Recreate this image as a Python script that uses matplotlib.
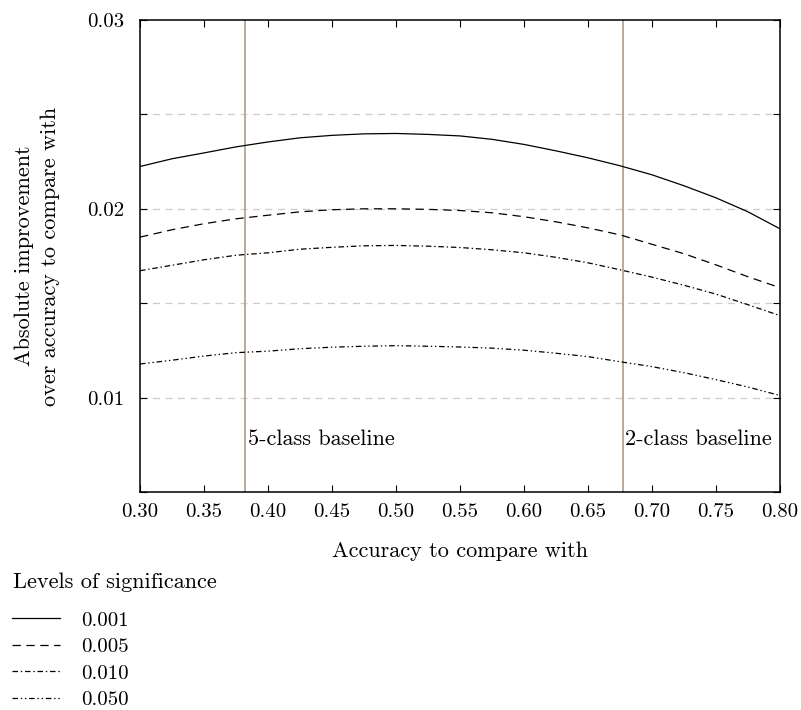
import matplotlib
matplotlib.use("Agg")
import matplotlib.pyplot as plt
from matplotlib.lines import Line2D

plt.rcParams.update({
    'font.family': 'cmr10',
    'font.size': 16,
    'axes.formatter.use_mathtext': True,
    'lines.scale_dashes': False,
})

# accuracy to compare with
acc = [0.300, 0.325, 0.350, 0.375, 0.400, 0.425, 0.450, 0.475, 0.500, 0.525, 0.550,
       0.575, 0.600, 0.625, 0.650, 0.675, 0.700, 0.725, 0.750, 0.775, 0.800]

# absolute improvement needed, one series per level of significance
imp_001 = [0.02224, 0.02265, 0.02296, 0.02328, 0.02354, 0.02376, 0.02389, 0.02397, 0.02399, 0.02394, 0.02386,
           0.02368, 0.02341, 0.02307, 0.02270, 0.02228, 0.02180, 0.02122, 0.02058, 0.01984, 0.01894]
imp_005 = [0.01850, 0.01889, 0.01921, 0.01947, 0.01966, 0.01984, 0.01995, 0.02000, 0.02000, 0.01997, 0.01991,
           0.01979, 0.01958, 0.01931, 0.01899, 0.01862, 0.01812, 0.01762, 0.01703, 0.01640, 0.01582]
imp_010 = [0.01672, 0.01701, 0.01730, 0.01754, 0.01767, 0.01786, 0.01796, 0.01804, 0.01806, 0.01802, 0.01795,
           0.01783, 0.01767, 0.01743, 0.01714, 0.01677, 0.01638, 0.01595, 0.01548, 0.01492, 0.01434]
imp_050 = [0.01178, 0.01198, 0.01220, 0.01238, 0.01246, 0.01259, 0.01267, 0.01272, 0.01275, 0.01272, 0.01268,
           0.01262, 0.01251, 0.01235, 0.01217, 0.01190, 0.01164, 0.01132, 0.01095, 0.01056, 0.01011]

levels = ['0.001', '0.005', '0.010', '0.050']
baselines = [0.382, 0.677]
baseline_names = ['5-class baseline', '2-class baseline']

styles = ['-', (0, (6, 4)), (0, (4, 2, 1, 2)), (0, (4, 2, 1, 2, 1, 2))]

fig = plt.figure(figsize=(8.01, 7.10), dpi=100)
ax = fig.add_axes([140 / 801, 1 - 492 / 710, 640 / 801, 472 / 710])

# grid
for g in [0.010, 0.015, 0.020, 0.025]:
    ax.axhline(g, color='#cccccc', lw=0.9, ls=(0, (5, 4)), zorder=1)

for b, name in zip(baselines, baseline_names):
    ax.axvline(b, color='#b8aa9a', lw=1.4, zorder=2)
    ax.text(b + 0.002, 0.0078, name, ha='left', va='center', fontsize=16)

series = [imp_001, imp_005, imp_010, imp_050]
for s, ls in zip(series, styles):
    ax.plot(acc, s, color='black', lw=0.9, ls=ls, zorder=3)

ax.set_xlim(0.30, 0.80)
ax.set_ylim(0.005, 0.03)
xt = [0.30, 0.35, 0.40, 0.45, 0.50, 0.55, 0.60, 0.65, 0.70, 0.75, 0.80]
ax.set_xticks(xt)
ax.set_xticklabels(['%.2f' % x for x in xt])
yt = [0.005, 0.010, 0.015, 0.020, 0.025, 0.030]
ax.set_yticks(yt)
ax.set_yticklabels(['', '0.01', '', '0.02', '', '0.03'])
ax.tick_params(direction='in', length=5, width=0.8, top=True, right=True, labelsize=15)
ax.tick_params(axis='x', pad=8)
ax.tick_params(axis='y', pad=11)
for sp in ax.spines.values():
    sp.set_linewidth(1.1)

ax.set_xlabel('Accuracy to compare with', labelpad=15)
ax.set_ylabel('Absolute improvement\nover accuracy to compare with', labelpad=20,
              linespacing=1.4)

# legend below the chart
fig.text(13 / 801, 1 - 582 / 710, 'Levels of significance', ha='left', va='center', fontsize=16)
handles = [Line2D([], [], color='black', lw=0.9, ls=ls) for ls in styles]
leg = fig.legend(handles, levels, loc='upper left',
                 bbox_to_anchor=(12 / 801, 1 - 611 / 710), frameon=False,
                 handlelength=2.3, handletextpad=1.0, labelspacing=0.38,
                 borderaxespad=0, borderpad=0, fontsize=15)

fig.savefig('out.png', dpi=100)
